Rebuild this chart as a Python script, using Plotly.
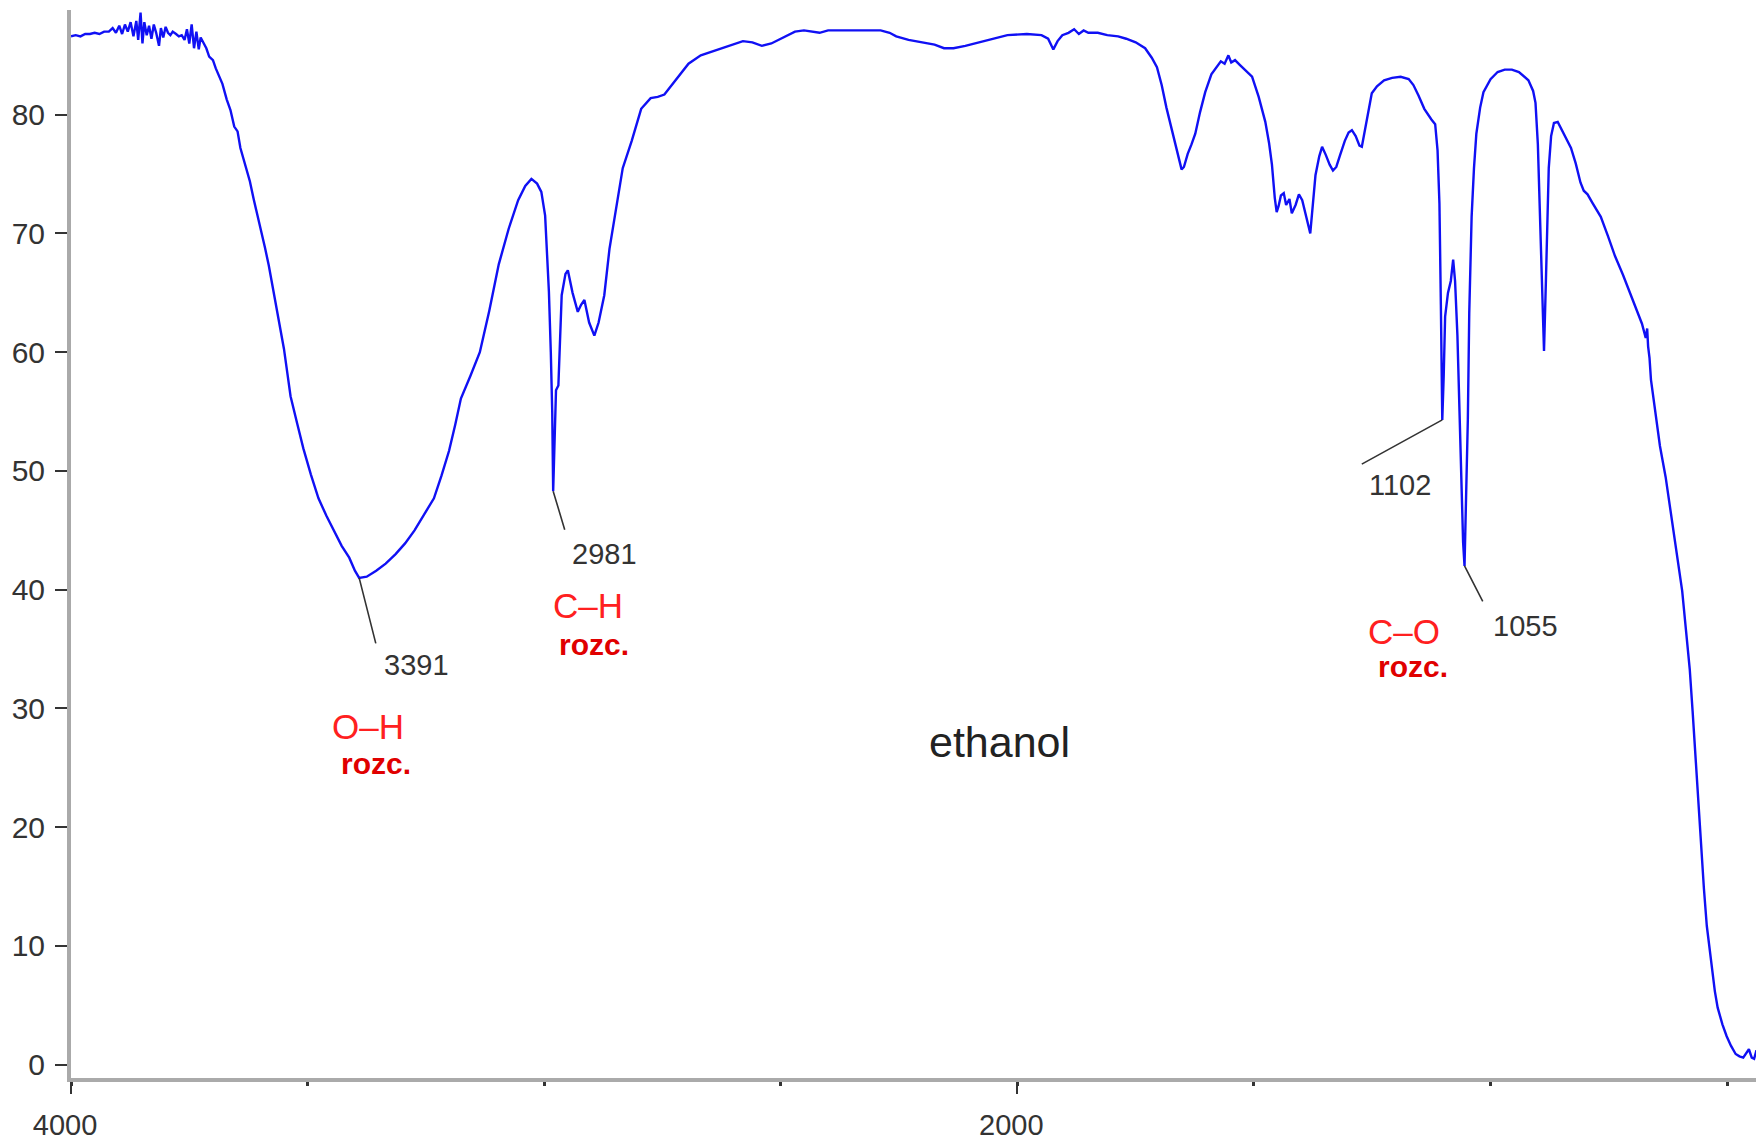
import plotly.graph_objects as go

# IR spectrum of ethanol: wavenumber (cm-1) and transmittance (%)
wavenumber = [
    4000, 3990, 3980, 3970, 3960, 3950, 3940, 3930, 3920, 3912,
    3905, 3898, 3892, 3886, 3880, 3874, 3868, 3862, 3858, 3853,
    3849, 3845, 3840, 3835, 3830, 3825, 3820, 3814, 3810, 3805,
    3800, 3795, 3790, 3785, 3778, 3772, 3766, 3760, 3755, 3750,
    3745, 3740, 3735, 3730, 3726, 3720, 3714, 3708, 3700, 3694,
    3687, 3680, 3671, 3663, 3655, 3648, 3642, 3631, 3622, 3614,
    3606, 3598, 3590, 3582, 3574, 3566, 3558, 3550, 3543, 3536,
    3522, 3509, 3493, 3477, 3460, 3444, 3428, 3412, 3400, 3391,
    3375, 3355, 3335, 3314, 3294, 3274, 3254, 3233, 3217, 3201,
    3188, 3176, 3156, 3136, 3116, 3096, 3075, 3055, 3040, 3027,
    3015, 3006, 2998, 2990, 2986, 2983, 2981, 2978, 2975, 2970,
    2966, 2963, 2955, 2950, 2940, 2929, 2922, 2915, 2905, 2894,
    2885, 2873, 2862, 2848, 2834, 2815, 2795, 2775, 2760, 2746,
    2720, 2695, 2669, 2640, 2610, 2580, 2560, 2540, 2520, 2500,
    2470, 2451, 2430, 2418, 2400, 2350, 2289, 2270, 2256, 2230,
    2200, 2175, 2155, 2135, 2110, 2090, 2070, 2045, 2021, 1980,
    1949, 1935, 1924, 1915, 1905, 1892, 1880, 1870, 1860, 1850,
    1830, 1810, 1787, 1770, 1750, 1730, 1716, 1705, 1695, 1685,
    1675, 1665, 1657, 1653, 1648, 1640, 1632, 1624, 1614, 1603,
    1590, 1578, 1570, 1562, 1554, 1548, 1540, 1530, 1515, 1504,
    1490, 1476, 1468, 1462, 1456, 1452, 1448, 1443, 1437, 1432,
    1425, 1420, 1412, 1405, 1398, 1390, 1384, 1381, 1378, 1375,
    1370, 1362, 1356, 1348, 1340, 1333, 1326, 1318, 1308, 1300,
    1293, 1285, 1277, 1272, 1266, 1260, 1251, 1240, 1225, 1208,
    1190, 1173, 1163, 1152, 1140, 1125, 1117, 1112, 1108, 1105,
    1102, 1099, 1096, 1090, 1084, 1079, 1075, 1070, 1064, 1058,
    1055, 1052, 1048, 1045, 1040, 1035, 1030, 1022, 1015, 1000,
    985, 970, 955, 940, 920, 910, 905, 900, 896, 892,
    887, 883, 880, 877, 872, 866, 858, 850, 840, 830,
    820, 810, 803, 795, 785, 767, 752, 737, 720, 705,
    689, 680, 672, 669, 667, 664, 661, 652, 642, 630,
    619, 607, 595, 587, 579, 573, 567, 561, 555, 549,
    543, 537, 532, 526, 520, 510, 501, 492, 482, 474,
    466, 460, 454, 448, 443, 438, 434,
]
transmittance = [
    86.6, 86.7, 86.6, 86.8, 86.8, 86.9, 86.8, 87.0, 87.0, 87.3,
    86.9, 87.5, 86.8, 87.6, 87.0, 87.8, 86.6, 87.9, 86.3, 88.6,
    86.0, 87.8, 86.7, 87.5, 86.4, 87.6, 86.9, 85.8, 87.3, 86.5,
    87.4, 86.9, 86.7, 87.0, 86.8, 86.6, 86.7, 86.3, 87.2, 86.0,
    87.6, 85.6, 87.0, 85.5, 86.5, 86.1, 85.6, 84.9, 84.6, 83.9,
    83.2, 82.6, 81.3, 80.4, 79.0, 78.6, 77.2, 75.7, 74.4, 72.9,
    71.6, 70.1, 68.8, 67.3, 65.6, 63.9, 62.1, 60.3, 58.3, 56.3,
    54.0, 51.9, 49.7, 47.7, 46.2, 45.0, 43.7, 42.7, 41.6, 41.0,
    41.1, 41.6, 42.2, 43.0, 43.9, 45.0, 46.3, 47.7, 49.6, 51.7,
    53.9, 56.1, 58.0, 60.0, 63.5, 67.4, 70.4, 72.8, 74.0, 74.6,
    74.2, 73.5, 71.5, 65.1, 60.0, 55.0, 48.3, 52.5, 56.8, 57.2,
    61.0, 64.8, 66.6, 66.9, 65.0, 63.4, 64.0, 64.4, 62.5, 61.4,
    62.5, 64.8, 68.7, 72.3, 75.5, 77.8, 80.5, 81.4, 81.5, 81.7,
    83.0, 84.3, 85.0, 85.4, 85.8, 86.2, 86.1, 85.8, 86.0, 86.4,
    87.0, 87.1, 87.0, 86.9, 87.1, 87.1, 87.1, 86.9, 86.6, 86.3,
    86.1, 85.9, 85.6, 85.6, 85.8, 86.0, 86.2, 86.5, 86.7, 86.8,
    86.7, 86.4, 85.5, 86.2, 86.7, 86.9, 87.2, 86.8, 87.1, 86.9,
    86.9, 86.7, 86.6, 86.4, 86.1, 85.6, 84.8, 84.0, 82.5, 80.6,
    79.0, 77.4, 75.9, 75.4, 75.6, 76.7, 77.5, 78.4, 80.2, 81.9,
    83.4, 84.0, 84.5, 84.3, 85.0, 84.4, 84.6, 84.2, 83.6, 83.2,
    81.5, 79.4, 77.6, 75.8, 73.0, 71.8, 72.3, 73.2, 73.4, 72.4,
    72.9, 71.7, 72.4, 73.3, 72.8, 71.6, 70.5, 70.0, 71.5, 73.0,
    74.9, 76.5, 77.3, 76.6, 75.8, 75.3, 75.6, 76.6, 77.8, 78.5,
    78.7, 78.2, 77.4, 77.3, 78.6, 80.0, 81.8, 82.4, 82.9, 83.1,
    83.2, 83.0, 82.5, 81.6, 80.5, 79.6, 79.2, 77.0, 72.5, 64.0,
    54.3, 58.0, 63.0, 65.0, 66.0, 67.8, 66.0, 61.4, 52.0, 44.0,
    42.0, 47.0, 54.3, 63.3, 71.4, 75.5, 78.4, 80.6, 81.9, 83.0,
    83.6, 83.8, 83.8, 83.6, 82.9, 82.0, 81.0, 77.5, 72.0, 65.5,
    60.1, 66.0, 72.0, 75.5, 78.2, 79.3, 79.4, 78.8, 78.0, 77.2,
    75.9, 74.3, 73.6, 73.3, 72.6, 71.4, 69.8, 68.1, 66.5, 65.0,
    63.4, 62.4, 61.2, 62.0, 60.5, 59.5, 57.7, 55.1, 52.1, 49.5,
    46.5, 43.3, 39.9, 36.6, 33.3, 29.8, 25.8, 22.0, 18.3, 14.8,
    11.7, 9.6, 8.0, 6.2, 4.8, 3.4, 2.4, 1.6, 0.9, 0.7,
    0.6, 1.0, 1.3, 0.6, 0.5, 1.2, 1.0,
]

# labelled band minima: (wavenumber, transmittance)
peak_labels = ["3391", "2981", "1102", "1055"]
peak_wn = [3391, 2981, 1102, 1055]
peak_t = [41.0, 48.3, 54.3, 42.0]
# leader-line offsets and label offsets in pixels
leader_dx = [17, 12, -82, 19]
leader_dy = [67, 40, 45, 37]
label_dx = [57, 51, -42, 61]
label_dy = [-87, -63, -65, -60]

# bond assignments (text, wavenumber, transmittance position)
bond_text = ["O\u2013H", "C\u2013H", "C\u2013O"]
bond_wn = [3373, 2908, 1182]
bond_t = [28.5, 38.7, 36.5]
mode_text = ["rozc.", "rozc.", "rozc."]
mode_wn = [3355, 2894, 1164]
mode_t = [25.4, 35.4, 33.5]

x_ticks = [4000, 2000]
y_ticks = [0, 10, 20, 30, 40, 50, 60, 70, 80]

fig = go.Figure()
fig.add_trace(go.Scatter(
    x=wavenumber, y=transmittance, mode="lines",
    line=dict(color="#1010f4", width=2.4),
    hoverinfo="x+y", showlegend=False,
))

num_font = dict(family="Liberation Sans, Arial", size=29, color="#333333")
for txt, wx, ty, ldx, ldy, tdx, tdy in zip(peak_labels, peak_wn, peak_t,
                                           leader_dx, leader_dy, label_dx, label_dy):
    fig.add_annotation(x=wx, y=ty, text="", showarrow=True, arrowhead=0,
                       arrowwidth=1.6, arrowcolor="#333333",
                       ax=ldx, ay=ldy, standoff=0, startstandoff=0)
    fig.add_annotation(x=wx, y=ty, text=txt, showarrow=False,
                       xshift=tdx, yshift=tdy, font=num_font)

for txt, wx, ty in zip(bond_text, bond_wn, bond_t):
    fig.add_annotation(x=wx, y=ty, text=txt, showarrow=False,
                       font=dict(family="Liberation Sans, Arial", size=35, color="#ff2020"))
for txt, wx, ty in zip(mode_text, mode_wn, mode_t):
    fig.add_annotation(x=wx, y=ty, text="<b>" + txt + "</b>", showarrow=False,
                       font=dict(family="Liberation Sans, Arial", size=30, color="#e00000"))

fig.add_annotation(x=2038, y=27.2, text="ethanol", showarrow=False,
                   font=dict(family="Liberation Sans, Arial", size=43, color="#222222"))

fig.update_layout(
    width=1756, height=1141,
    margin=dict(l=71, r=0, t=10, b=58),
    paper_bgcolor="white", plot_bgcolor="white",
    font=dict(family="Liberation Sans, Arial", color="#333333"),
    xaxis=dict(
        range=[4000, 439], showgrid=False, zeroline=False,
        showline=True, linecolor="#aaaaaa", linewidth=4,
        tickmode="array", tickvals=x_ticks, ticktext=[str(v) for v in x_ticks],
        ticks="outside", ticklen=12, tickwidth=2, tickcolor="#333333",
        tickfont=dict(size=29, color="#333333"),
        ticklabelstandoff=6, ticklabelshift=6,
        minor=dict(dtick=500, tick0=0, ticks="outside", ticklen=4,
                   tickwidth=3, tickcolor="#333333", showgrid=False),
    ),
    yaxis=dict(
        range=[-1.12, 88.82], showgrid=False, zeroline=False,
        showline=True, linecolor="#aaaaaa", linewidth=4,
        tickmode="array", tickvals=y_ticks,
        ticks="outside", ticklen=12, tickwidth=2, tickcolor="#333333",
        tickfont=dict(size=30, color="#333333"),
        ticklabelstandoff=4,
    ),
)

fig.write_html("out.html")
